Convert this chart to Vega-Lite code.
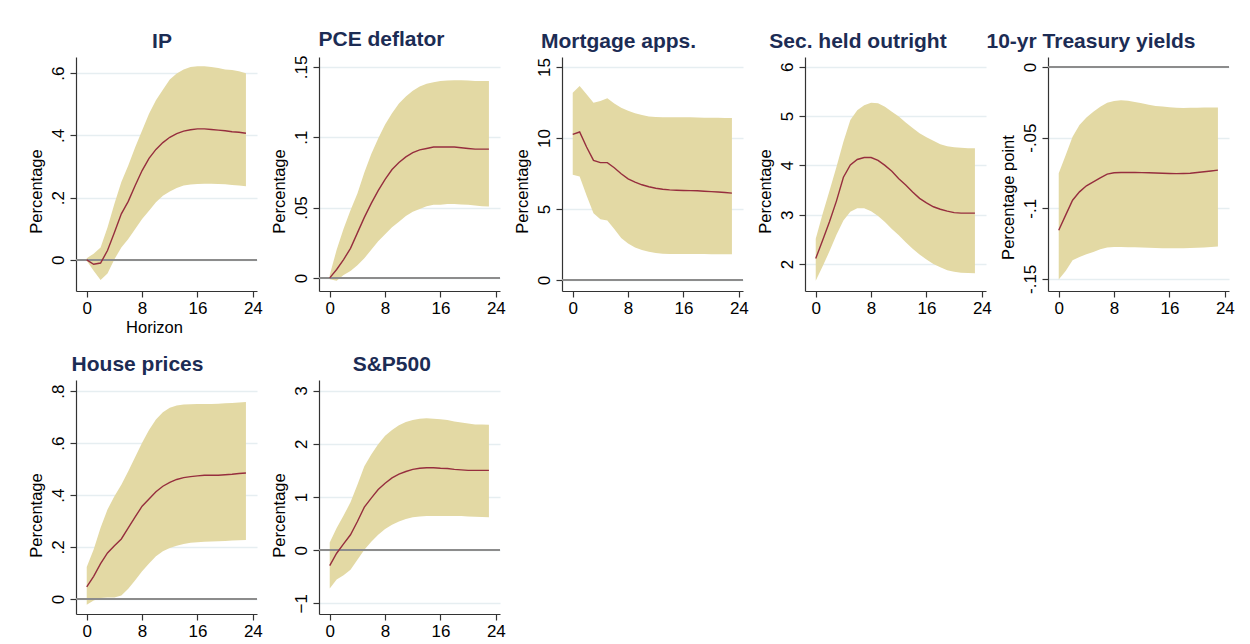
{
"$schema": "https://vega.github.io/schema/vega-lite/v6.json",
"background": "white",
"padding": {"left": 27, "top": 29, "right": 5, "bottom": 5},
"bounds": "flush",
"columns": 5,
"spacing": {"row": 89, "column": 62},
"datasets": {"irf": [
{"p":"IP","h":0,"lo":-0.003,"est":0,"hi":0.005},
{"p":"IP","h":1,"lo":-0.035,"est":-0.014,"hi":0.02},
{"p":"IP","h":2,"lo":-0.065,"est":-0.01,"hi":0.04},
{"p":"IP","h":3,"lo":-0.044,"est":0.03,"hi":0.104},
{"p":"IP","h":4,"lo":0.002,"est":0.088,"hi":0.18},
{"p":"IP","h":5,"lo":0.04,"est":0.148,"hi":0.25},
{"p":"IP","h":6,"lo":0.067,"est":0.188,"hi":0.303},
{"p":"IP","h":7,"lo":0.099,"est":0.239,"hi":0.362},
{"p":"IP","h":8,"lo":0.131,"est":0.287,"hi":0.416},
{"p":"IP","h":9,"lo":0.158,"est":0.326,"hi":0.47},
{"p":"IP","h":10,"lo":0.185,"est":0.355,"hi":0.513},
{"p":"IP","h":11,"lo":0.206,"est":0.377,"hi":0.547},
{"p":"IP","h":12,"lo":0.22,"est":0.394,"hi":0.58},
{"p":"IP","h":13,"lo":0.231,"est":0.406,"hi":0.599},
{"p":"IP","h":14,"lo":0.239,"est":0.414,"hi":0.612},
{"p":"IP","h":15,"lo":0.242,"est":0.418,"hi":0.62},
{"p":"IP","h":16,"lo":0.244,"est":0.421,"hi":0.622},
{"p":"IP","h":17,"lo":0.245,"est":0.421,"hi":0.622},
{"p":"IP","h":18,"lo":0.245,"est":0.419,"hi":0.62},
{"p":"IP","h":19,"lo":0.244,"est":0.417,"hi":0.617},
{"p":"IP","h":20,"lo":0.243,"est":0.415,"hi":0.612},
{"p":"IP","h":21,"lo":0.241,"est":0.412,"hi":0.61},
{"p":"IP","h":22,"lo":0.239,"est":0.41,"hi":0.606},
{"p":"IP","h":23,"lo":0.237,"est":0.407,"hi":0.6},
{"p":"PCE","h":0,"lo":-0.001,"est":0,"hi":0.002},
{"p":"PCE","h":1,"lo":-0.002,"est":0.006,"hi":0.02},
{"p":"PCE","h":2,"lo":0.002,"est":0.013,"hi":0.035},
{"p":"PCE","h":3,"lo":0.005,"est":0.021,"hi":0.048},
{"p":"PCE","h":4,"lo":0.009,"est":0.032,"hi":0.06},
{"p":"PCE","h":5,"lo":0.014,"est":0.043,"hi":0.075},
{"p":"PCE","h":6,"lo":0.02,"est":0.053,"hi":0.088},
{"p":"PCE","h":7,"lo":0.026,"est":0.062,"hi":0.099},
{"p":"PCE","h":8,"lo":0.031,"est":0.07,"hi":0.109},
{"p":"PCE","h":9,"lo":0.036,"est":0.077,"hi":0.117},
{"p":"PCE","h":10,"lo":0.04,"est":0.082,"hi":0.124},
{"p":"PCE","h":11,"lo":0.044,"est":0.086,"hi":0.129},
{"p":"PCE","h":12,"lo":0.047,"est":0.089,"hi":0.133},
{"p":"PCE","h":13,"lo":0.049,"est":0.091,"hi":0.136},
{"p":"PCE","h":14,"lo":0.051,"est":0.092,"hi":0.138},
{"p":"PCE","h":15,"lo":0.052,"est":0.093,"hi":0.139},
{"p":"PCE","h":16,"lo":0.052,"est":0.093,"hi":0.14},
{"p":"PCE","h":17,"lo":0.0525,"est":0.093,"hi":0.1403},
{"p":"PCE","h":18,"lo":0.0525,"est":0.093,"hi":0.1405},
{"p":"PCE","h":19,"lo":0.0522,"est":0.0925,"hi":0.1405},
{"p":"PCE","h":20,"lo":0.052,"est":0.092,"hi":0.1403},
{"p":"PCE","h":21,"lo":0.0515,"est":0.0915,"hi":0.14},
{"p":"PCE","h":22,"lo":0.051,"est":0.0915,"hi":0.14},
{"p":"PCE","h":23,"lo":0.0507,"est":0.0915,"hi":0.14},
{"p":"MA","h":0,"lo":7.41,"est":10.25,"hi":13.19},
{"p":"MA","h":1,"lo":7.29,"est":10.42,"hi":13.66},
{"p":"MA","h":2,"lo":5.94,"est":9.36,"hi":13.07},
{"p":"MA","h":3,"lo":4.69,"est":8.42,"hi":12.48},
{"p":"MA","h":4,"lo":4.27,"est":8.26,"hi":12.6},
{"p":"MA","h":5,"lo":4.18,"est":8.26,"hi":12.79},
{"p":"MA","h":6,"lo":3.59,"est":7.9,"hi":12.43},
{"p":"MA","h":7,"lo":2.95,"est":7.48,"hi":12.12},
{"p":"MA","h":8,"lo":2.57,"est":7.12,"hi":11.91},
{"p":"MA","h":9,"lo":2.29,"est":6.89,"hi":11.73},
{"p":"MA","h":10,"lo":2.1,"est":6.7,"hi":11.61},
{"p":"MA","h":11,"lo":1.98,"est":6.56,"hi":11.51},
{"p":"MA","h":12,"lo":1.89,"est":6.46,"hi":11.47},
{"p":"MA","h":13,"lo":1.84,"est":6.39,"hi":11.46},
{"p":"MA","h":14,"lo":1.82,"est":6.34,"hi":11.46},
{"p":"MA","h":15,"lo":1.82,"est":6.32,"hi":11.45},
{"p":"MA","h":16,"lo":1.82,"est":6.3,"hi":11.45},
{"p":"MA","h":17,"lo":1.82,"est":6.29,"hi":11.45},
{"p":"MA","h":18,"lo":1.82,"est":6.28,"hi":11.44},
{"p":"MA","h":19,"lo":1.82,"est":6.25,"hi":11.43},
{"p":"MA","h":20,"lo":1.81,"est":6.22,"hi":11.42},
{"p":"MA","h":21,"lo":1.81,"est":6.19,"hi":11.42},
{"p":"MA","h":22,"lo":1.8,"est":6.16,"hi":11.41},
{"p":"MA","h":23,"lo":1.8,"est":6.11,"hi":11.4},
{"p":"SH","h":0,"lo":1.66,"est":2.11,"hi":2.51},
{"p":"SH","h":1,"lo":1.95,"est":2.48,"hi":3.02},
{"p":"SH","h":2,"lo":2.26,"est":2.86,"hi":3.49},
{"p":"SH","h":3,"lo":2.59,"est":3.28,"hi":3.97},
{"p":"SH","h":4,"lo":2.88,"est":3.76,"hi":4.48},
{"p":"SH","h":5,"lo":3.06,"est":4.01,"hi":4.92},
{"p":"SH","h":6,"lo":3.13,"est":4.12,"hi":5.12},
{"p":"SH","h":7,"lo":3.13,"est":4.16,"hi":5.22},
{"p":"SH","h":8,"lo":3.07,"est":4.16,"hi":5.27},
{"p":"SH","h":9,"lo":2.97,"est":4.1,"hi":5.26},
{"p":"SH","h":10,"lo":2.85,"est":4.0,"hi":5.19},
{"p":"SH","h":11,"lo":2.71,"est":3.88,"hi":5.09},
{"p":"SH","h":12,"lo":2.58,"est":3.73,"hi":4.99},
{"p":"SH","h":13,"lo":2.44,"est":3.6,"hi":4.87},
{"p":"SH","h":14,"lo":2.31,"est":3.46,"hi":4.76},
{"p":"SH","h":15,"lo":2.19,"est":3.33,"hi":4.65},
{"p":"SH","h":16,"lo":2.09,"est":3.24,"hi":4.57},
{"p":"SH","h":17,"lo":2.0,"est":3.16,"hi":4.5},
{"p":"SH","h":18,"lo":1.93,"est":3.11,"hi":4.43},
{"p":"SH","h":19,"lo":1.87,"est":3.07,"hi":4.39},
{"p":"SH","h":20,"lo":1.84,"est":3.04,"hi":4.37},
{"p":"SH","h":21,"lo":1.82,"est":3.03,"hi":4.36},
{"p":"SH","h":22,"lo":1.815,"est":3.03,"hi":4.35},
{"p":"SH","h":23,"lo":1.81,"est":3.03,"hi":4.35},
{"p":"TY","h":0,"lo":-0.1505,"est":-0.1156,"hi":-0.0753},
{"p":"TY","h":1,"lo":-0.1444,"est":-0.1049,"hi":-0.0624},
{"p":"TY","h":2,"lo":-0.1368,"est":-0.0943,"hi":-0.0494},
{"p":"TY","h":3,"lo":-0.1345,"est":-0.0884,"hi":-0.0411},
{"p":"TY","h":4,"lo":-0.1326,"est":-0.0841,"hi":-0.0357},
{"p":"TY","h":5,"lo":-0.1309,"est":-0.0813,"hi":-0.0317},
{"p":"TY","h":6,"lo":-0.129,"est":-0.0785,"hi":-0.0281},
{"p":"TY","h":7,"lo":-0.1278,"est":-0.0758,"hi":-0.0253},
{"p":"TY","h":8,"lo":-0.1274,"est":-0.0749,"hi":-0.0241},
{"p":"TY","h":9,"lo":-0.1275,"est":-0.0747,"hi":-0.0236},
{"p":"TY","h":10,"lo":-0.1276,"est":-0.0747,"hi":-0.0239},
{"p":"TY","h":11,"lo":-0.1277,"est":-0.0747,"hi":-0.0248},
{"p":"TY","h":12,"lo":-0.1278,"est":-0.0748,"hi":-0.0257},
{"p":"TY","h":13,"lo":-0.128,"est":-0.0749,"hi":-0.0267},
{"p":"TY","h":14,"lo":-0.1282,"est":-0.075,"hi":-0.0276},
{"p":"TY","h":15,"lo":-0.1283,"est":-0.0752,"hi":-0.028},
{"p":"TY","h":16,"lo":-0.1284,"est":-0.0754,"hi":-0.0285},
{"p":"TY","h":17,"lo":-0.1284,"est":-0.0755,"hi":-0.0288},
{"p":"TY","h":18,"lo":-0.1283,"est":-0.0754,"hi":-0.029},
{"p":"TY","h":19,"lo":-0.1281,"est":-0.0752,"hi":-0.0289},
{"p":"TY","h":20,"lo":-0.128,"est":-0.0747,"hi":-0.0288},
{"p":"TY","h":21,"lo":-0.1278,"est":-0.0742,"hi":-0.0287},
{"p":"TY","h":22,"lo":-0.1275,"est":-0.0736,"hi":-0.0286},
{"p":"TY","h":23,"lo":-0.127,"est":-0.073,"hi":-0.0286},
{"p":"HP","h":0,"lo":-0.022,"est":0.046,"hi":0.123},
{"p":"HP","h":1,"lo":-0.006,"est":0.087,"hi":0.19},
{"p":"HP","h":2,"lo":0.004,"est":0.136,"hi":0.274},
{"p":"HP","h":3,"lo":0.006,"est":0.177,"hi":0.344},
{"p":"HP","h":4,"lo":0.006,"est":0.205,"hi":0.395},
{"p":"HP","h":5,"lo":0.013,"est":0.231,"hi":0.44},
{"p":"HP","h":6,"lo":0.039,"est":0.274,"hi":0.492},
{"p":"HP","h":7,"lo":0.072,"est":0.316,"hi":0.547},
{"p":"HP","h":8,"lo":0.107,"est":0.357,"hi":0.601},
{"p":"HP","h":9,"lo":0.136,"est":0.385,"hi":0.65},
{"p":"HP","h":10,"lo":0.164,"est":0.413,"hi":0.691},
{"p":"HP","h":11,"lo":0.184,"est":0.434,"hi":0.719},
{"p":"HP","h":12,"lo":0.196,"est":0.449,"hi":0.736},
{"p":"HP","h":13,"lo":0.205,"est":0.46,"hi":0.745},
{"p":"HP","h":14,"lo":0.212,"est":0.467,"hi":0.749},
{"p":"HP","h":15,"lo":0.216,"est":0.471,"hi":0.75},
{"p":"HP","h":16,"lo":0.218,"est":0.474,"hi":0.751},
{"p":"HP","h":17,"lo":0.22,"est":0.476,"hi":0.751},
{"p":"HP","h":18,"lo":0.221,"est":0.476,"hi":0.751},
{"p":"HP","h":19,"lo":0.222,"est":0.476,"hi":0.752},
{"p":"HP","h":20,"lo":0.223,"est":0.478,"hi":0.753},
{"p":"HP","h":21,"lo":0.225,"est":0.48,"hi":0.754},
{"p":"HP","h":22,"lo":0.226,"est":0.483,"hi":0.756},
{"p":"HP","h":23,"lo":0.227,"est":0.485,"hi":0.758},
{"p":"SP","h":0,"lo":-0.72,"est":-0.29,"hi":0.145},
{"p":"SP","h":1,"lo":-0.55,"est":-0.057,"hi":0.415},
{"p":"SP","h":2,"lo":-0.47,"est":0.12,"hi":0.65},
{"p":"SP","h":3,"lo":-0.37,"est":0.29,"hi":0.9},
{"p":"SP","h":4,"lo":-0.18,"est":0.54,"hi":1.23},
{"p":"SP","h":5,"lo":0.006,"est":0.81,"hi":1.58},
{"p":"SP","h":6,"lo":0.16,"est":0.98,"hi":1.8},
{"p":"SP","h":7,"lo":0.29,"est":1.14,"hi":1.99},
{"p":"SP","h":8,"lo":0.4,"est":1.26,"hi":2.15},
{"p":"SP","h":9,"lo":0.48,"est":1.36,"hi":2.26},
{"p":"SP","h":10,"lo":0.54,"est":1.43,"hi":2.35},
{"p":"SP","h":11,"lo":0.585,"est":1.48,"hi":2.41},
{"p":"SP","h":12,"lo":0.62,"est":1.52,"hi":2.45},
{"p":"SP","h":13,"lo":0.635,"est":1.54,"hi":2.47},
{"p":"SP","h":14,"lo":0.645,"est":1.55,"hi":2.48},
{"p":"SP","h":15,"lo":0.645,"est":1.55,"hi":2.47},
{"p":"SP","h":16,"lo":0.645,"est":1.54,"hi":2.46},
{"p":"SP","h":17,"lo":0.645,"est":1.535,"hi":2.45},
{"p":"SP","h":18,"lo":0.645,"est":1.52,"hi":2.42},
{"p":"SP","h":19,"lo":0.645,"est":1.51,"hi":2.4},
{"p":"SP","h":20,"lo":0.635,"est":1.5,"hi":2.38},
{"p":"SP","h":21,"lo":0.63,"est":1.5,"hi":2.365},
{"p":"SP","h":22,"lo":0.625,"est":1.5,"hi":2.365},
{"p":"SP","h":23,"lo":0.62,"est":1.5,"hi":2.36}
]},
"concat": [
{"width":181,"height":234,"title":{"text":"IP","dx":-4.5},"data":{"name":"irf"},"transform":[{"filter":"datum.p==='IP'"}],
 "layer":[
  {"mark":{"type":"area","color":"#e3d9a4","opacity":1},"encoding":{"x":{"field":"h","type":"quantitative","scale":{"domain":[-1.55,24.6],"nice":false,"zero":false},"axis":{"values":[0,8,16,24],"title":"Horizon","titleX":78}},"y":{"field":"lo","type":"quantitative","scale":{"domain":[-0.1,0.652],"nice":false,"zero":false},"axis":{"values":[0,0.2,0.4,0.6],"title":"Percentage","titleY":134,"labelExpr":"replace(datum.value + '', '0.', '.')"}},"y2":{"field":"hi"}}},
  {"mark":{"type":"rule","color":"#8c8c8c","strokeWidth":1.3},"encoding":{"y":{"datum":0,"type":"quantitative","scale":{"domain":[-0.1,0.652],"nice":false,"zero":false},"axis":{"values":[0,0.2,0.4,0.6],"title":"Percentage","titleY":134,"labelExpr":"replace(datum.value + '', '0.', '.')"}}}},
  {"mark":{"type":"line","color":"#962e3e","strokeWidth":1.4},"encoding":{"x":{"field":"h","type":"quantitative","scale":{"domain":[-1.55,24.6],"nice":false,"zero":false},"axis":{"values":[0,8,16,24],"title":"Horizon","titleX":78}},"y":{"field":"est","type":"quantitative","scale":{"domain":[-0.1,0.652],"nice":false,"zero":false},"axis":{"values":[0,0.2,0.4,0.6],"title":"Percentage","titleY":134,"labelExpr":"replace(datum.value + '', '0.', '.')"}}}}
 ]},
{"width":181,"height":234,"title":{"text":"PCE deflator","dx":-28},"data":{"name":"irf"},"transform":[{"filter":"datum.p==='PCE'"}],
 "layer":[
  {"mark":{"type":"area","color":"#e3d9a4","opacity":1},"encoding":{"x":{"field":"h","type":"quantitative","scale":{"domain":[-1.55,24.6],"nice":false,"zero":false},"axis":{"values":[0,8,16,24],"title":null}},"y":{"field":"lo","type":"quantitative","scale":{"domain":[-0.0093,0.157],"nice":false,"zero":false},"axis":{"values":[0,0.05,0.1,0.15],"title":"Percentage","titleY":134,"labelExpr":"replace(datum.value + '', '0.', '.')"}},"y2":{"field":"hi"}}},
  {"mark":{"type":"rule","color":"#8c8c8c","strokeWidth":1.3},"encoding":{"y":{"datum":0,"type":"quantitative","scale":{"domain":[-0.0093,0.157],"nice":false,"zero":false},"axis":{"values":[0,0.05,0.1,0.15],"title":"Percentage","titleY":134,"labelExpr":"replace(datum.value + '', '0.', '.')"}}}},
  {"mark":{"type":"line","color":"#962e3e","strokeWidth":1.4},"encoding":{"x":{"field":"h","type":"quantitative","scale":{"domain":[-1.55,24.6],"nice":false,"zero":false},"axis":{"values":[0,8,16,24],"title":null}},"y":{"field":"est","type":"quantitative","scale":{"domain":[-0.0093,0.157],"nice":false,"zero":false},"axis":{"values":[0,0.05,0.1,0.15],"title":"Percentage","titleY":134,"labelExpr":"replace(datum.value + '', '0.', '.')"}}}}
 ]},
{"width":181,"height":234,"title":{"text":"Mortgage apps.","dx":-34},"data":{"name":"irf"},"transform":[{"filter":"datum.p==='MA'"}],
 "layer":[
  {"mark":{"type":"area","color":"#e3d9a4","opacity":1},"encoding":{"x":{"field":"h","type":"quantitative","scale":{"domain":[-1.55,24.6],"nice":false,"zero":false},"axis":{"values":[0,8,16,24],"title":null}},"y":{"field":"lo","type":"quantitative","scale":{"domain":[-0.78,15.7],"nice":false,"zero":false},"axis":{"values":[0,5,10,15],"title":"Percentage","titleY":134}},"y2":{"field":"hi"}}},
  {"mark":{"type":"rule","color":"#8c8c8c","strokeWidth":1.3},"encoding":{"y":{"datum":0,"type":"quantitative","scale":{"domain":[-0.78,15.7],"nice":false,"zero":false},"axis":{"values":[0,5,10,15],"title":"Percentage","titleY":134}}}},
  {"mark":{"type":"line","color":"#962e3e","strokeWidth":1.4},"encoding":{"x":{"field":"h","type":"quantitative","scale":{"domain":[-1.55,24.6],"nice":false,"zero":false},"axis":{"values":[0,8,16,24],"title":null}},"y":{"field":"est","type":"quantitative","scale":{"domain":[-0.78,15.7],"nice":false,"zero":false},"axis":{"values":[0,5,10,15],"title":"Percentage","titleY":134}}}}
 ]},
{"width":181,"height":234,"title":{"text":"Sec. held outright","dx":-37.5},"data":{"name":"irf"},"transform":[{"filter":"datum.p==='SH'"}],
 "layer":[
  {"mark":{"type":"area","color":"#e3d9a4","opacity":1},"encoding":{"x":{"field":"h","type":"quantitative","scale":{"domain":[-1.55,24.6],"nice":false,"zero":false},"axis":{"values":[0,8,16,24],"title":null}},"y":{"field":"lo","type":"quantitative","scale":{"domain":[1.45,6.2],"nice":false,"zero":false},"axis":{"values":[2,3,4,5,6],"title":"Percentage","titleY":134}},"y2":{"field":"hi"}}},
  {"mark":{"type":"line","color":"#962e3e","strokeWidth":1.4},"encoding":{"x":{"field":"h","type":"quantitative","scale":{"domain":[-1.55,24.6],"nice":false,"zero":false},"axis":{"values":[0,8,16,24],"title":null}},"y":{"field":"est","type":"quantitative","scale":{"domain":[1.45,6.2],"nice":false,"zero":false},"axis":{"values":[2,3,4,5,6],"title":"Percentage","titleY":134}}}}
 ]},
{"width":181,"height":234,"title":{"text":"10-yr Treasury yields","dx":-47.5},"data":{"name":"irf"},"transform":[{"filter":"datum.p==='TY'"}],
 "layer":[
  {"mark":{"type":"area","color":"#e3d9a4","opacity":1},"encoding":{"x":{"field":"h","type":"quantitative","scale":{"domain":[-1.55,24.6],"nice":false,"zero":false},"axis":{"values":[0,8,16,24],"title":null}},"y":{"field":"lo","type":"quantitative","scale":{"domain":[-0.1586,0.0071],"nice":false,"zero":false},"axis":{"values":[-0.15,-0.1,-0.05,0],"title":"Percentage point","titleY":140,"labelExpr":"replace(datum.value + '', '0.', '.')"}},"y2":{"field":"hi"}}},
  {"mark":{"type":"rule","color":"#8c8c8c","strokeWidth":1.3},"encoding":{"y":{"datum":0,"type":"quantitative","scale":{"domain":[-0.1586,0.0071],"nice":false,"zero":false},"axis":{"values":[-0.15,-0.1,-0.05,0],"title":"Percentage point","titleY":140,"labelExpr":"replace(datum.value + '', '0.', '.')"}}}},
  {"mark":{"type":"line","color":"#962e3e","strokeWidth":1.4},"encoding":{"x":{"field":"h","type":"quantitative","scale":{"domain":[-1.55,24.6],"nice":false,"zero":false},"axis":{"values":[0,8,16,24],"title":null}},"y":{"field":"est","type":"quantitative","scale":{"domain":[-0.1586,0.0071],"nice":false,"zero":false},"axis":{"values":[-0.15,-0.1,-0.05,0],"title":"Percentage point","titleY":140,"labelExpr":"replace(datum.value + '', '0.', '.')"}}}}
 ]},
{"width":181,"height":234,"title":{"text":"House prices","dx":-29},"data":{"name":"irf"},"transform":[{"filter":"datum.p==='HP'"}],
 "layer":[
  {"mark":{"type":"area","color":"#e3d9a4","opacity":1},"encoding":{"x":{"field":"h","type":"quantitative","scale":{"domain":[-1.55,24.6],"nice":false,"zero":false},"axis":{"values":[0,8,16,24],"title":null}},"y":{"field":"lo","type":"quantitative","scale":{"domain":[-0.058,0.843],"nice":false,"zero":false},"axis":{"values":[0,0.2,0.4,0.6,0.8],"title":"Percentage","titleY":135,"labelExpr":"replace(datum.value + '', '0.', '.')"}},"y2":{"field":"hi"}}},
  {"mark":{"type":"rule","color":"#8c8c8c","strokeWidth":1.3},"encoding":{"y":{"datum":0,"type":"quantitative","scale":{"domain":[-0.058,0.843],"nice":false,"zero":false},"axis":{"values":[0,0.2,0.4,0.6,0.8],"title":"Percentage","titleY":135,"labelExpr":"replace(datum.value + '', '0.', '.')"}}}},
  {"mark":{"type":"line","color":"#962e3e","strokeWidth":1.4},"encoding":{"x":{"field":"h","type":"quantitative","scale":{"domain":[-1.55,24.6],"nice":false,"zero":false},"axis":{"values":[0,8,16,24],"title":null}},"y":{"field":"est","type":"quantitative","scale":{"domain":[-0.058,0.843],"nice":false,"zero":false},"axis":{"values":[0,0.2,0.4,0.6,0.8],"title":"Percentage","titleY":135,"labelExpr":"replace(datum.value + '', '0.', '.')"}}}}
 ]},
{"width":181,"height":234,"title":{"text":"S&P500","dx":-17.7},"data":{"name":"irf"},"transform":[{"filter":"datum.p==='SP'"}],
 "layer":[
  {"mark":{"type":"area","color":"#e3d9a4","opacity":1},"encoding":{"x":{"field":"h","type":"quantitative","scale":{"domain":[-1.55,24.6],"nice":false,"zero":false},"axis":{"values":[0,8,16,24],"title":null}},"y":{"field":"lo","type":"quantitative","scale":{"domain":[-1.2,3.2],"nice":false,"zero":false},"axis":{"values":[-1,0,1,2,3],"title":"Percentage","titleY":135}},"y2":{"field":"hi"}}},
  {"mark":{"type":"rule","color":"#8c8c8c","strokeWidth":1.3},"encoding":{"y":{"datum":0,"type":"quantitative","scale":{"domain":[-1.2,3.2],"nice":false,"zero":false},"axis":{"values":[-1,0,1,2,3],"title":"Percentage","titleY":135}}}},
  {"mark":{"type":"line","color":"#962e3e","strokeWidth":1.4},"encoding":{"x":{"field":"h","type":"quantitative","scale":{"domain":[-1.55,24.6],"nice":false,"zero":false},"axis":{"values":[0,8,16,24],"title":null}},"y":{"field":"est","type":"quantitative","scale":{"domain":[-1.2,3.2],"nice":false,"zero":false},"axis":{"values":[-1,0,1,2,3],"title":"Percentage","titleY":135}}}}
 ]}
],
"config": {
 "view": {"stroke": null},
 "font": "Liberation Sans",
 "axis": {"domainColor": "#333333", "tickColor": "#333333", "domainWidth": 1.2, "tickWidth": 1.2, "tickSize": 6, "labelFont": "Liberation Sans", "labelFontSize": 17, "labelColor": "#000000", "titleFont": "Liberation Sans", "titleFontSize": 16.5, "titleFontWeight": "normal", "titleColor": "#000000", "gridColor": "#e6eef1", "gridWidth": 1.3},
 "axisX": {"grid": false, "labelPadding": 3, "titlePadding": 3, "labelFlush": false},
 "axisY": {"grid": true, "labelAngle": -90, "labelPadding": 3, "titlePadding": 5},
 "title": {"font": "Liberation Sans", "fontSize": 21, "fontWeight": "bold", "color": "#1c2c54", "anchor": "middle", "baseline": "alphabetic", "offset": 5}
}
}
